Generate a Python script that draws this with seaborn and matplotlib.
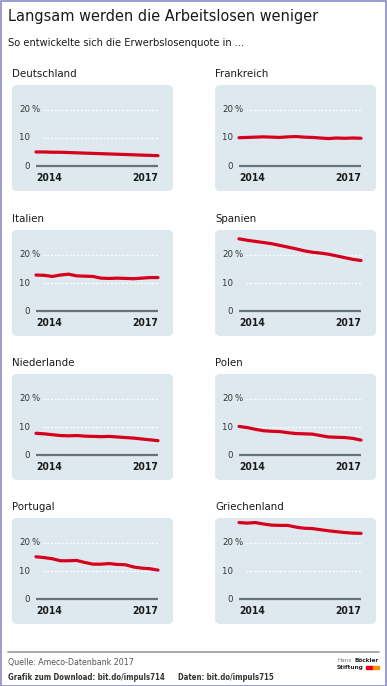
import numpy as np
import pandas as pd
import matplotlib
matplotlib.use("Agg")
from matplotlib import pyplot as plt
from matplotlib.patches import FancyBboxPatch, Rectangle
import seaborn as sns

W, H = 387, 686

countries = ["Deutschland", "Frankreich", "Italien", "Spanien",
             "Niederlande", "Polen", "Portugal", "Griechenland"]

deutschland = [5.1, 5.1, 5.0, 5.0, 4.9, 4.8, 4.7, 4.6, 4.5, 4.4, 4.3, 4.2, 4.1, 4.0, 3.9, 3.8]
frankreich = [10.1, 10.2, 10.3, 10.4, 10.3, 10.2, 10.4, 10.5, 10.3, 10.2, 10.0, 9.8, 10.0, 9.9, 10.0, 9.9]
italien = [12.8, 12.7, 12.3, 12.8, 13.1, 12.5, 12.4, 12.3, 11.7, 11.6, 11.7, 11.6, 11.5, 11.7, 11.9, 11.9]
spanien = [25.5, 25.0, 24.6, 24.2, 23.8, 23.2, 22.6, 22.0, 21.3, 20.8, 20.5, 20.1, 19.5, 18.9, 18.3, 17.9]
niederlande = [7.8, 7.6, 7.3, 7.0, 6.9, 7.0, 6.8, 6.7, 6.6, 6.7, 6.5, 6.3, 6.1, 5.8, 5.5, 5.2]
polen = [10.2, 9.8, 9.2, 8.7, 8.5, 8.4, 8.0, 7.7, 7.6, 7.5, 7.0, 6.5, 6.4, 6.3, 6.0, 5.4]
portugal = [15.0, 14.7, 14.3, 13.6, 13.6, 13.7, 13.0, 12.4, 12.4, 12.6, 12.3, 12.2, 11.4, 11.0, 10.8, 10.3]
griechenland = [27.0, 26.8, 27.0, 26.5, 26.1, 26.0, 26.0, 25.4, 25.0, 24.9, 24.5, 24.1, 23.8, 23.5, 23.3, 23.2]

series = [deutschland, frankreich, italien, spanien, niederlande, polen, portugal, griechenland]
year_labels = ["2014", "2017"]
ytick_vals = [0, 10, 20]

BOX_BG = "#dde9ee"
RED = "#d7001c"

sns.set_style("white")
plt.rcParams["font.family"] = ["DejaVu Sans"]
plt.rcParams["font.stretch"] = "condensed"

fig = plt.figure(figsize=(W / 100, H / 100), dpi=100)
fig.patch.set_facecolor("white")


def fx(px):
    return px / W


def fy(py):
    return 1 - py / H


# box geometry (pixels)
box_left = [12, 215]
box_top = [85, 230, 374, 518]
box_w, box_h = 161, 106
lpad, rpad = 24, 15
ylo, yhi = -8.6, 28.6

for i, (name, vals) in enumerate(zip(countries, series)):
    r, c = divmod(i, 2)
    x0, y0 = box_left[c], box_top[r]
    # rounded background
    fig.patches.append(FancyBboxPatch(
        (fx(x0), fy(y0 + box_h)), fx(box_w), box_h / H,
        boxstyle="round,pad=0,rounding_size=%f" % fx(5),
        mutation_aspect=W / H, transform=fig.transFigure,
        facecolor=BOX_BG, edgecolor="none", zorder=-5))
    fig.text(fx(x0), fy(y0 - 11), name, fontsize=8.2, va="center",
             ha="left", color="#1a1a1a")

    ax = fig.add_axes([fx(x0), fy(y0 + box_h), fx(box_w), box_h / H])
    ax.patch.set_visible(False)
    n = len(vals)
    df = pd.DataFrame({"t": np.arange(n), "quote": vals})
    span = (n - 1) / (box_w - lpad - rpad)
    ax.set_xlim(-lpad * span, (n - 1) + rpad * span)
    ax.set_ylim(ylo, yhi)
    for s in ax.spines.values():
        s.set_visible(False)
    ax.set_xticks([])
    ax.set_yticks([])

    for v in ytick_vals[1:]:
        ax.plot([7 * span, n - 1], [v, v],
                color="white", lw=0.9, ls=(0, (1.5, 1.5)), zorder=1)
    ax.plot([0, n - 1], [0, 0], color="#6b7276", lw=1.6, zorder=2,
            solid_capstyle="butt")
    sns.lineplot(data=df, x="t", y="quote", ax=ax, color=RED, lw=2.3,
                 zorder=3, legend=False)
    ax.set_xlabel("")
    ax.set_ylabel("")

    for v in ytick_vals:
        ax.text(-6 * span, v, str(v), ha="right", va="center",
                fontsize=6.8, color="#333333")
    ax.text(-4.5 * span, ytick_vals[-1], "%", ha="left",
            va="center", fontsize=6.8, color="#333333")
    ax.text(0, -4.2, year_labels[0], ha="left", va="center", fontsize=7.4,
            fontweight="bold", color="#1a1a1a")
    ax.text(n - 1, -4.2, year_labels[1], ha="right", va="center",
            fontsize=7.4, fontweight="bold", color="#1a1a1a")

# title
fig.text(fx(8), fy(17), "Langsam werden die Arbeitslosen weniger",
         fontsize=11.6, va="center", ha="left", color="#1a1a1a")
fig.text(fx(8), fy(43), "So entwickelte sich die Erwerbslosenquote in ...",
         fontsize=7.9, va="center", ha="left", color="#1a1a1a")

# footer
fig.add_artist(plt.Line2D([fx(8), fx(379)], [fy(652), fy(652)],
                          color="#999999", lw=1.2))
fig.text(fx(8), fy(663), "Quelle: Ameco-Datenbank 2017", fontsize=6.3,
         va="center", ha="left", color="#555555")
fig.text(fx(8), fy(677), "Grafik zum Download: bit.do/impuls714", fontsize=5.6,
         va="center", ha="left", color="#333333", fontweight="bold")
fig.text(fx(178), fy(677), "Daten: bit.do/impuls715", fontsize=5.6,
         va="center", ha="left", color="#333333", fontweight="bold")
fig.text(fx(337), fy(660), "Hans", fontsize=4.6, va="center", ha="left",
         color="#777777")
fig.text(fx(379), fy(660), "Böckler", fontsize=4.6, va="center", ha="right",
         color="#222222", fontweight="bold")
fig.text(fx(337), fy(667), "Stiftung", fontsize=4.6, va="center", ha="left",
         color="#222222", fontweight="bold")
fig.patches.append(Rectangle((fx(366), fy(669)), fx(7), 3 / H,
                             transform=fig.transFigure, color="#e2001a"))
fig.patches.append(Rectangle((fx(373), fy(669)), fx(6), 3 / H,
                             transform=fig.transFigure, color="#f39200"))

# frame
fig.patches.append(Rectangle((0.5 / W, 0.5 / H), 1 - 1.5 / W, 1 - 1.5 / H,
                             transform=fig.transFigure, fill=False,
                             edgecolor="#8a8ac6", lw=1.2))

fig.savefig("out.png", dpi=100)
